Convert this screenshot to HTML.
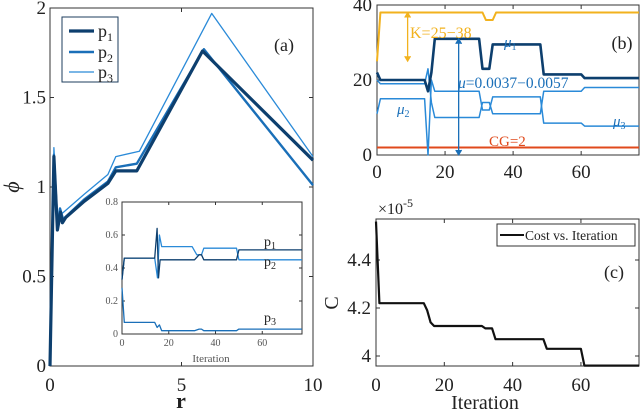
<!DOCTYPE html>
<html><head><meta charset="utf-8"><style>
body{margin:0;background:#fff}
svg text{font-family:"Liberation Serif",serif}
</style></head><body>
<svg id="fig" width="640" height="413" viewBox="0 0 640 413" xmlns="http://www.w3.org/2000/svg"></svg>
<script>
// Panel (a) data
const aP1 = [[0,0],[0.15,1.17],[0.28,0.76],[0.4,0.86],[0.47,0.8],[0.6,0.83],[1.3,0.92],[2.2,1.02],[2.5,1.09],[3.3,1.09],[5.8,1.76],[10,1.15]];
const aP2 = [[0,0],[0.15,1.18],[0.28,0.78],[0.38,0.88],[0.5,0.82],[1.3,0.93],[2.2,1.03],[2.5,1.11],[3.3,1.13],[5.85,1.77],[10,1.01]];
const aP3 = [[0,0],[0.15,1.22],[0.3,0.8],[0.45,0.85],[1.3,0.96],[2.2,1.07],[2.5,1.17],[3.4,1.2],[6.15,1.97],[10,1.17]];
const aXTicks = [0,5,10];
const aYTicks = [0,0.5,1,1.5,2];
const aYLabels = ["0","0.5","1","1.5","2"];
// inset
const inP1 = [[0,0.33],[1,0.46],[14,0.46],[15,0.64],[15.6,0.34],[16.3,0.45],[31,0.45],[33,0.48],[34,0.48],[35,0.45],[49,0.45],[50,0.51],[77,0.51]];
const inP2 = [[0,0.33],[1,0.46],[14,0.46],[15.2,0.34],[16,0.6],[17,0.53],[30,0.53],[32,0.48],[34,0.48],[35,0.52],[49,0.52],[50,0.45],[77,0.45]];
const inP3 = [[0,0.28],[1,0.07],[14,0.07],[15,0.04],[16,0.055],[17,0.02],[31,0.02],[33,0.03],[34,0.03],[35,0.02],[49,0.02],[50,0.03],[77,0.03]];
const inXTicks = [0,20,40,60];
const inYTicks = [0,0.2,0.4,0.6,0.8];
// Panel (b)
const bK = [[0,25],[1,38],[31,38],[32,36],[34,36],[35,38],[77,38]];
const bMu1 = [[0,22],[1,20],[14,20],[15,17],[16,22],[17,31],[30,31],[31,23],[33,23],[34,29.5],[48,29.5],[49,21.5],[60,21.5],[61,20.5],[77,20.5]];
const bMuA = [[0,11],[1,15],[14,15],[15,0],[16,20],[17,17],[30,17],[31,12],[33,12],[34,15.5],[48,15.5],[49,8.5],[60,8.5],[61,7.7],[77,7.7]];
const bMuB = [[0,20],[1,19],[14,19],[15,23],[16,14],[17,10],[30,10],[31,14],[33,14],[34,11],[48,11],[49,17],[60,17],[61,18],[77,18]];
const bCG = [[0,2],[77,2]];
const bXTicks = [0,20,40,60];
const bYTicks = [0,20,40];
// Panel (c)
const cCost = [[0,4.56],[1,4.22],[14,4.22],[15,4.19],[16,4.14],[17,4.125],[31,4.125],[32,4.115],[34,4.115],[35,4.07],[49,4.07],[50,4.03],[60,4.03],[61,3.96],[77,3.96]];
const cXTicks = [0,20,40,60];
const cYTicks = [4.0,4.2,4.4];
const cYLabels = ["4","4.2","4.4"];

const svg = document.getElementById('fig');
const NS = 'http://www.w3.org/2000/svg';
function el(tag, attrs, parent){const e=document.createElementNS(NS,tag);for(const k in attrs)e.setAttribute(k,attrs[k]);(parent||svg).appendChild(e);return e;}
function txt(x,y,s,size,anchor,fill){const t=el('text',{x:x,y:y,'font-size':size,'text-anchor':anchor||'middle',fill:fill||'#222'});t.textContent=s;return t;}
function scale(d0,d1,r0,r1){return v=>r0+(v-d0)/(d1-d0)*(r1-r0);}
function line(data,sx,sy,color,w,name){const p=el('polyline',{points:data.map(d=>sx(d[0]).toFixed(1)+','+sy(d[1]).toFixed(1)).join(' '),fill:'none',stroke:color,'stroke-width':w,'stroke-linejoin':'round'});


return p;}
function frame(x0,y0,x1,y1,name){const r=el('rect',{x:x0,y:y0,width:x1-x0,height:y1-y0,fill:'none',stroke:'#333','stroke-width':1});

}

const DARK='#0d3f6e', MID='#1a6fb8', LIGHT='#2a8ad8';
const TS=19;

// ---- Panel (a)
const ax=scale(0,10,50,313), ay=scale(0,2,366,8);
frame(50,8,313,366,'panel-a-axes');
aXTicks.forEach(v=>{el('line',{x1:ax(v),x2:ax(v),y1:366,y2:362,stroke:'#333'});el('line',{x1:ax(v),x2:ax(v),y1:8,y2:12,stroke:'#333'});
const t=txt(ax(v),391,String(v),TS);});
aYTicks.forEach((v,i)=>{el('line',{x1:50,x2:54,y1:ay(v),y2:ay(v),stroke:'#333'});el('line',{x1:313,x2:309,y1:ay(v),y2:ay(v),stroke:'#333'});
const t=txt(46,ay(v)+6,aYLabels[i],TS,'end');});
line(aP3,ax,ay,LIGHT,1.3,'series-p3');
line(aP2,ax,ay,MID,2.4,'series-p2');
line(aP1,ax,ay,DARK,3.2,'series-p1');
let t=txt(181,408,'r',22);t.setAttribute('font-weight','bold');
t=txt(0,0,'ϕ',22);t.setAttribute('transform','translate(19,187) rotate(-90)');t.setAttribute('font-style','italic');
t=txt(284,51,'(a)',18);
// legend
const lg=el('g',{});
el('rect',{x:62,y:17,width:56,height:65,fill:'#fff',stroke:'#1d3d5e','stroke-width':1},lg);
[[DARK,3.2,'1',32],[MID,2.4,'2',53],[LIGHT,1.3,'3',73]].forEach(a=>{el('line',{x1:69,x2:94,y1:a[3]-1,y2:a[3]-1,stroke:a[0],'stroke-width':a[1]},lg);
const tt=el('text',{x:98,y:a[3]+5,'font-size':18,fill:'#222'},lg);tt.innerHTML='p<tspan font-size="12" dy="4">'+a[2]+'</tspan>';});
// inset
const ix=scale(0,77,122,302), iy=scale(0,0.8,334,202);
el('rect',{x:122,y:202,width:180,height:132,fill:'#fff'});
frame(122,202,302,334,'inset-axes');
inXTicks.forEach(v=>{el('line',{x1:ix(v),x2:ix(v),y1:334,y2:331,stroke:'#333'});el('line',{x1:ix(v),x2:ix(v),y1:202,y2:205,stroke:'#333'});txt(ix(v),346,String(v),10,'middle','#555');});
inYTicks.forEach(v=>{el('line',{x1:122,x2:125,y1:iy(v),y2:iy(v),stroke:'#333'});el('line',{x1:302,x2:299,y1:iy(v),y2:iy(v),stroke:'#333'});txt(118,iy(v)+3,String(v),10,'end','#555');});
line(inP3,ix,iy,MID,1.3,'inset-p3');
line(inP2,ix,iy,LIGHT,1.3,'inset-p2');
line(inP1,ix,iy,DARK,1.3,'inset-p1');
txt(211,362,'Iteration',11,'middle','#555');
[['1',250],['2',270],['3',326]].forEach(a=>{const q=el('text',{x:264,y:a[1]-4,'font-size':14,fill:'#222'});q.innerHTML='p<tspan font-size="10" dy="3">'+a[0]+'</tspan>';});

// ---- Panel (b)
const bx=scale(0,77,377,639), by=scale(0,40,155,5);
frame(377,5,639,155,'panel-b-axes');
bXTicks.forEach(v=>{el('line',{x1:bx(v),x2:bx(v),y1:155,y2:151,stroke:'#333'});el('line',{x1:bx(v),x2:bx(v),y1:5,y2:9,stroke:'#333'});txt(bx(v),178,String(v),TS);});
bYTicks.forEach(v=>{el('line',{x1:377,x2:381,y1:by(v),y2:by(v),stroke:'#333'});txt(372,by(v)+6,String(v),TS,'end');});
line(bCG,bx,by,'#e04a1c',2,'series-cg');
line(bK,bx,by,'#f2b21e',2,'series-k');
line(bMuB,bx,by,LIGHT,1.5,'series-mu2');
line(bMuA,bx,by,LIGHT,1.5,'series-mu3');
line(bMu1,bx,by,DARK,2.6,'series-mu1');
function arrow(x,v0,v1,c){el('line',{x1:bx(x),x2:bx(x),y1:by(v0),y2:by(v1),stroke:c,'stroke-width':1.3});
[[v0,1],[v1,-1]].forEach(a=>{const y=by(a[0]);el('path',{d:`M${bx(x)-3},${y-5*a[1]} L${bx(x)},${y} L${bx(x)+3},${y-5*a[1]}`,fill:c,stroke:c});});}
arrow(9,25,38,'#f2b21e');
arrow(24,0,31,MID);
txt(410,38,'K=25−38',16,'start','#f2b21e');
let m=el('text',{x:504,y:47,'font-size':15,fill:MID});m.innerHTML='<tspan font-style="italic">μ</tspan><tspan font-size="10" dy="3">1</tspan>';
m=el('text',{x:458,y:88,'font-size':15.5,fill:MID});m.innerHTML='<tspan font-style="italic">μ</tspan>=0.0037−0.0057';
m=el('text',{x:397,y:114,'font-size':15,fill:MID});m.innerHTML='<tspan font-style="italic">μ</tspan><tspan font-size="10" dy="3">2</tspan>';
m=el('text',{x:613,y:126,'font-size':15,fill:MID});m.innerHTML='<tspan font-style="italic">μ</tspan><tspan font-size="10" dy="3">3</tspan>';
txt(489,146,'CG=2',15,'start','#e04a1c');
txt(622,49,'(b)',18);

// ---- Panel (c)
const cx=scale(0,77,376,639), cy=scale(4.0,4.4,356,260);
frame(376,219,639,366,'panel-c-axes');
cXTicks.forEach(v=>{el('line',{x1:cx(v),x2:cx(v),y1:366,y2:362,stroke:'#333'});el('line',{x1:cx(v),x2:cx(v),y1:219,y2:223,stroke:'#333'});txt(cx(v),391,String(v),TS);});
cYTicks.forEach((v,i)=>{el('line',{x1:376,x2:380,y1:cy(v),y2:cy(v),stroke:'#333'});el('line',{x1:639,x2:635,y1:cy(v),y2:cy(v),stroke:'#333'});txt(371,cy(v)+6,cYLabels[i],TS,'end');});
line(cCost,cx,cy,'#111',2.2,'series-cost');
m=el('text',{x:378,y:214,'font-size':16,fill:'#222'});m.innerHTML='×10<tspan font-size="12" dy="-7">-5</tspan>';
txt(485,409,'Iteration',20);
t=txt(0,0,'C',20);t.setAttribute('transform','translate(338,303) rotate(-90)');
const lc=el('g',{});
el('rect',{x:497,y:224,width:138,height:22,fill:'#fff',stroke:'#333'},lc);
el('line',{x1:500,x2:524,y1:235,y2:235,stroke:'#111','stroke-width':2},lc);
const lt=el('text',{x:525,y:240,'font-size':13.5,fill:'#222'},lc);lt.textContent='Cost vs. Iteration';
txt(614,278,'(c)',18);
</script>
</body></html>
